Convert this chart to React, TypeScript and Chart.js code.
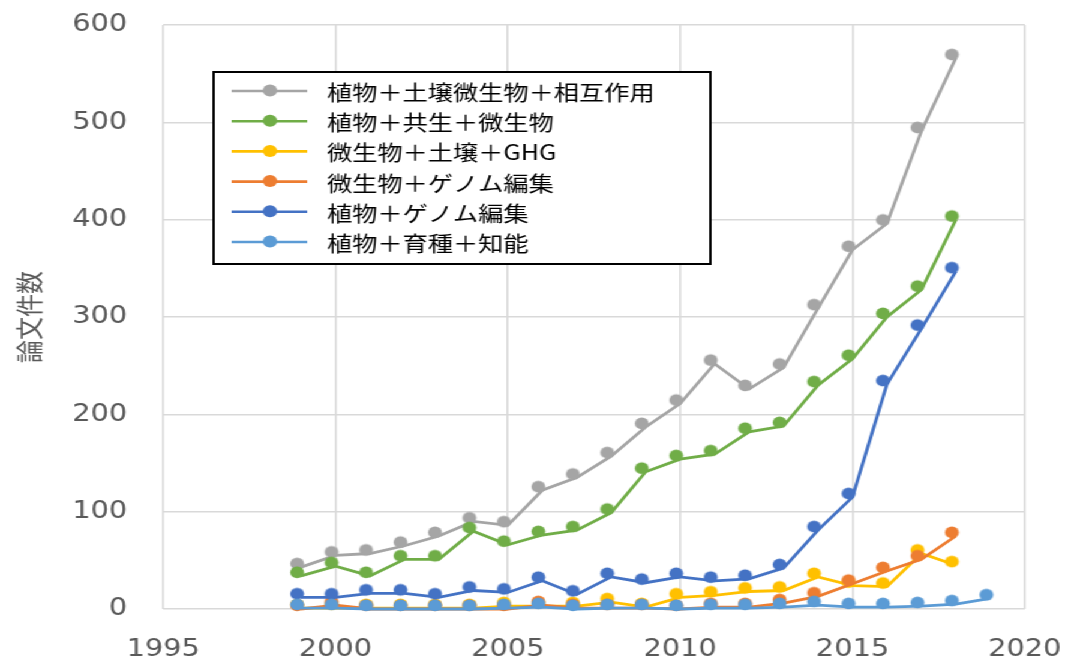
import React, { useEffect, useRef } from "react";
import { Chart, registerables } from "chart.js";

Chart.register(...registerables);

// ---- data ----
const years: number[] = [1999, 2000, 2001, 2002, 2003, 2004, 2005, 2006, 2007, 2008, 2009, 2010, 2011, 2012, 2013, 2014, 2015, 2016, 2017, 2018];
const yearsBreeding: number[] = [1999, 2000, 2001, 2002, 2003, 2004, 2005, 2006, 2007, 2008, 2009, 2010, 2011, 2012, 2013, 2014, 2015, 2016, 2017, 2018, 2019];

const seriesNames: string[] = [
  "植物＋土壌微生物＋相互作用",
  "植物＋共生＋微生物",
  "微生物＋土壌＋GHG",
  "微生物＋ゲノム編集",
  "植物＋ゲノム編集",
  "植物＋育種＋知能",
];

const plantSoilMicrobe: number[] = [43, 55, 57, 65, 75, 90, 86, 122, 135, 157, 187, 211, 252, 226, 248, 309, 369, 396, 491, 566];
const plantSymbiosis: number[] = [34, 44, 34, 51, 51, 80, 66, 76, 81, 99, 141, 154, 159, 182, 188, 230, 257, 300, 328, 400];
const microbeSoilGHG: number[] = [1, 1, 1, 1, 1, 1, 3, 3, 3, 7, 2, 12, 14, 18, 19, 33, 24, 23, 57, 45];
const microbeGenomeEdit: number[] = [0, 4, 0, 0, 0, 0, 0, 4, 1, 1, 1, 0, 2, 2, 6, 13, 26, 39, 51, 75];
const plantGenomeEdit: number[] = [12, 12, 16, 16, 12, 19, 17, 29, 15, 33, 27, 33, 29, 31, 42, 81, 115, 231, 288, 347];
const plantBreedingAI: number[] = [1, 1, 0, 0, 0, 0, 1, 2, 0, 1, 1, 0, 1, 1, 2, 4, 2, 2, 3, 5, 11];

const xTickMin = 1995;
const xTickMax = 2020;
const xTickStep = 5;
const yTickMin = 0;
const yTickMax = 600;
const yTickStep = 100;
const yTitle = "論文件数";

// ---- styles ----
const colors = ["#A5A5A5", "#70AD47", "#FFC000", "#ED7D31", "#4472C4", "#5B9BD5"];
const CW = 889;
const CH = 659;
const STRETCH = 1.2;

function makeMarker(color: string): HTMLCanvasElement {
  const c = document.createElement("canvas");
  c.width = 24;
  c.height = 24;
  const ctx = c.getContext("2d")!;
  ctx.fillStyle = color;
  ctx.beginPath();
  ctx.arc(12 - 3.3, 12 - 3.6, 5.8, 0, Math.PI * 2);
  ctx.fill();
  return c;
}

const legendPlugin = {
  id: "boxLegend",
  afterDraw(chart: any) {
    const ctx: CanvasRenderingContext2D = chart.ctx;
    ctx.save();
    const bx = 178, by = 72, bw = 414, bh = 192;
    ctx.fillStyle = "#ffffff";
    ctx.fillRect(bx, by, bw, bh);
    ctx.strokeStyle = "#000000";
    ctx.lineWidth = 2;
    ctx.strokeRect(bx, by, bw, bh);
    const datasets = chart.data.datasets;
    for (let i = 0; i < seriesNames.length; i++) {
      const y = 91 + i * 30.2;
      const col = datasets[i].borderColor as string;
      ctx.strokeStyle = col;
      ctx.lineWidth = 2.6;
      ctx.beginPath();
      ctx.moveTo(193, y);
      ctx.lineTo(256, y);
      ctx.stroke();
      ctx.fillStyle = col;
      ctx.beginPath();
      ctx.arc(225, y - 0.5, 6, 0, Math.PI * 2);
      ctx.fill();
      ctx.fillStyle = "#000000";
      ctx.font = "21px 'Noto Sans CJK JP'";
      ctx.textBaseline = "middle";
      ctx.textAlign = "left";
      ctx.fillText(seriesNames[i], 272.5, y + 1);
    }
    ctx.restore();
  },
};

export default function App() {
  const ref = useRef<HTMLCanvasElement>(null);

  useEffect(() => {
    const allSeries = [plantSoilMicrobe, plantSymbiosis, microbeSoilGHG, microbeGenomeEdit, plantGenomeEdit, plantBreedingAI];
    const datasets = allSeries.map((vals, i) => {
      const xs = i === 5 ? yearsBreeding : years;
      return {
        label: seriesNames[i],
        data: vals.map((v, k) => ({ x: xs[k], y: v })),
        borderColor: colors[i],
        backgroundColor: colors[i],
        borderWidth: 2.8,
        pointStyle: makeMarker(colors[i]) as any,
        pointRadius: 6,
        pointHoverRadius: 6,
        tension: 0,
        clip: false as any,
        order: 5 - i,
      };
    });

    const chart = new Chart(ref.current!, {
      type: "line",
      data: { datasets },
      options: {
        animation: false,
        responsive: false,
        devicePixelRatio: 1,
        events: [],
        layout: { padding: { left: 0, right: 35, top: 25, bottom: 0 } },
        plugins: { legend: { display: false }, tooltip: { enabled: false } },
        scales: {
          x: {
            type: "linear",
            min: xTickMin,
            max: xTickMax,
            ticks: {
              stepSize: xTickStep,
              callback: (v: any) => String(v),
              color: "#595959",
              font: { family: "'DejaVu Sans'", size: 24 },
              padding: 26,
              maxRotation: 0,
              autoSkip: false,
            },
            grid: { color: "#D9D9D9", lineWidth: 1.6, drawTicks: false },
            border: { display: false },
            afterFit: (scale: any) => {
              scale.height = 50;
              scale.paddingLeft = 0;
              scale.paddingRight = 0;
            },
          },
          y: {
            min: yTickMin,
            max: yTickMax,
            ticks: {
              stepSize: yTickStep,
              color: "#595959",
              font: { family: "'DejaVu Sans'", size: 24 },
              padding: 30,
            },
            title: {
              display: true,
              text: yTitle,
              color: "#595959",
              font: { family: "'Noto Sans CJK JP'", size: 23 },
              padding: { top: 10, bottom: 0 },
            },
            grid: { color: "#D9D9D9", lineWidth: 1.6, drawTicks: false },
            border: { display: false },
            afterFit: (scale: any) => {
              scale.width = 136;
              scale.paddingTop = 0;
              scale.paddingBottom = 0;
            },
          },
        },
      },
      plugins: [legendPlugin],
    });
    return () => chart.destroy();
  }, []);

  return (
    <div
      style={{
        position: "absolute",
        left: 0,
        top: 0,
        width: CW,
        height: CH,
        transform: `scaleX(${STRETCH})`,
        transformOrigin: "0 0",
        background: "#ffffff",
      }}
    >
      <canvas ref={ref} width={CW} height={CH} style={{ display: "block", width: CW, height: CH }} />
    </div>
  );
}
